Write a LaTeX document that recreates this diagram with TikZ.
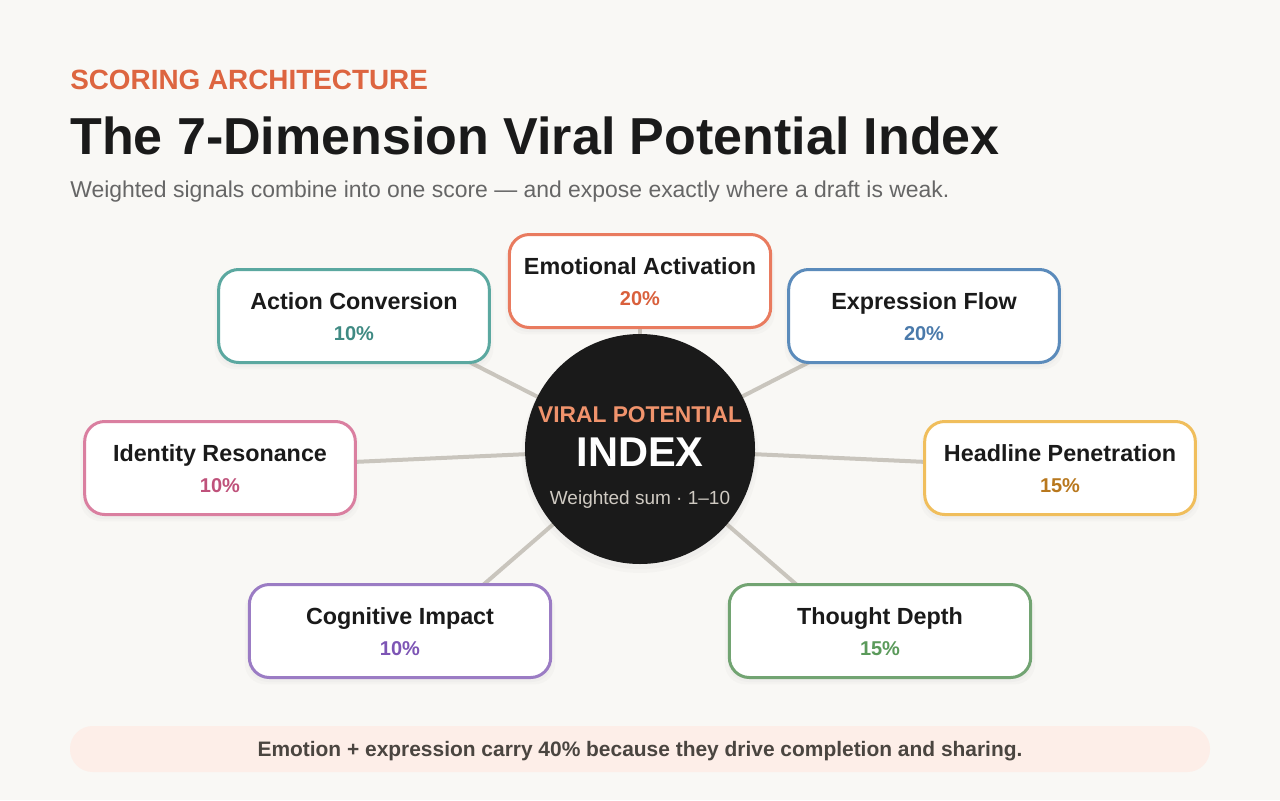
\documentclass[tikz,border=0pt]{standalone}
\usepackage{fontspec}
\setmainfont{Liberation Sans}
\usepackage{xcolor}
\usepackage{tikz}
\usetikzlibrary{positioning,calc,backgrounds,shadows}

\definecolor{pageBg}{HTML}{F9F8F5}
\definecolor{kickerOrange}{HTML}{DD6540}
\definecolor{inkDark}{HTML}{1A1A1A}
\definecolor{inkGrey}{HTML}{666666}
\definecolor{spokeGrey}{HTML}{C9C5BD}
\definecolor{hubPeach}{HTML}{F0936C}
\definecolor{hubSub}{HTML}{CFCAC2}
\definecolor{noteFill}{HTML}{FDEEE8}
\definecolor{noteInk}{HTML}{4A4540}
% dimension colours: border / percentage
\definecolor{emoLine}{HTML}{E97B5F}\definecolor{emoText}{HTML}{D9603C}
\definecolor{actLine}{HTML}{5BA8A0}\definecolor{actText}{HTML}{3F8A83}
\definecolor{expLine}{HTML}{5B8BBB}\definecolor{expText}{HTML}{4A7AAB}
\definecolor{idnLine}{HTML}{DA7FA0}\definecolor{idnText}{HTML}{BF527B}
\definecolor{hdlLine}{HTML}{F0BE5C}\definecolor{hdlText}{HTML}{B8781E}
\definecolor{cogLine}{HTML}{9B7CC4}\definecolor{cogText}{HTML}{7D55B5}
\definecolor{thtLine}{HTML}{72A472}\definecolor{thtText}{HTML}{5A9A5A}

\newcommand{\ptsize}[1]{\fontsize{#1}{#1}\selectfont}

\begin{document}
\begin{tikzpicture}[x=0.75pt, y=-0.75pt,
  txt/.style={inner sep=0pt, anchor=base},
  softshadow/.style={
    drop shadow={opacity=0.035, shadow xshift=0pt, shadow yshift=-4pt, shadow scale=1.03},
    drop shadow={opacity=0.035, shadow xshift=0pt, shadow yshift=-3pt, shadow scale=1.01}},
  dimbox/.style={line width=2.25pt, fill=white, rounded corners=15pt, minimum height=69.75pt, softshadow},
  dimtitle/.style={txt, text=inkDark, font=\ptsize{17.5pt}\bfseries},
  dimpct/.style={txt, font=\ptsize{15pt}\bfseries},
  spoke/.style={draw=spokeGrey, line width=3pt},
  hubdisc/.style={circle, fill=inkDark, minimum size=172.5pt, inner sep=0pt, softshadow}]

  % Page and heading
  \node[txt, anchor=base west, text=kickerOrange, font=\ptsize{20.9pt}\bfseries] (kicker) at (70,89) {SCORING ARCHITECTURE};
  \node[txt, anchor=base west, text=inkDark, font=\ptsize{39pt}\bfseries] (headline) at (70,154) {The 7-Dimension Viral Potential Index};
  \node[txt, anchor=base west, text=inkGrey, font=\ptsize{17.2pt}] (subline) at (70,197) {Weighted signals combine into one score — and expose exactly where a draft is weak.};

  % Central index
  \node[hubdisc] (hub) at (640,449) {};
  \node[txt, text=hubPeach, font=\ptsize{17.1pt}\bfseries] at ($(hub)+(0,-27)$) {VIRAL POTENTIAL};
  \node[txt, text=white, font=\ptsize{31.2pt}\bfseries] at ($(hub)+(0,17)$) {INDEX};
  \node[txt, text=hubSub, font=\ptsize{14.25pt}] at ($(hub)+(0,55)$) {Weighted sum · 1–10};

  % Seven weighted dimensions
  \foreach \nm/\cx/\cy/\bw/\ttl/\pct in {
      emo/640/281/196/Emotional Activation/20,
      act/354/316/203/Action Conversion/10,
      exp/924/316/203/Expression Flow/20,
      idn/220/468/203/Identity Resonance/10,
      hdl/1060/468/203/Headline Penetration/15,
      cog/400/631/226/Cognitive Impact/10,
      tht/880/631/226/Thought Depth/15} {
    \node[dimbox, draw=\nm Line, minimum width=\bw pt] (\nm) at (\cx,\cy) {};
    \node[dimtitle] at ($(\nm)+(0,-7)$) {\ttl};
    \node[dimpct, text=\nm Text] at ($(\nm)+(0,24)$) {\pct\%};
  }

  % Page fill and spokes behind boxes
  \begin{scope}[on background layer]
    \fill[pageBg] (0,0) rectangle (1280,800);
    \foreach \nm/\dx in {emo/0, act/25, exp/-25, idn/0, hdl/0, cog/30, tht/-30}
      \draw[spoke] (hub.center) -- ($(\nm)+(\dx,0)$);
  \end{scope}

  % Takeaway banner
  \node[fill=noteFill, rounded corners=17pt, minimum width=855pt, minimum height=34.5pt, text depth=0pt,
    text=noteInk, font=\ptsize{15.7pt}\bfseries] (note) at (640,749)
    {Emotion + expression carry 40\% because they drive completion and sharing.};
\end{tikzpicture}
\end{document}
